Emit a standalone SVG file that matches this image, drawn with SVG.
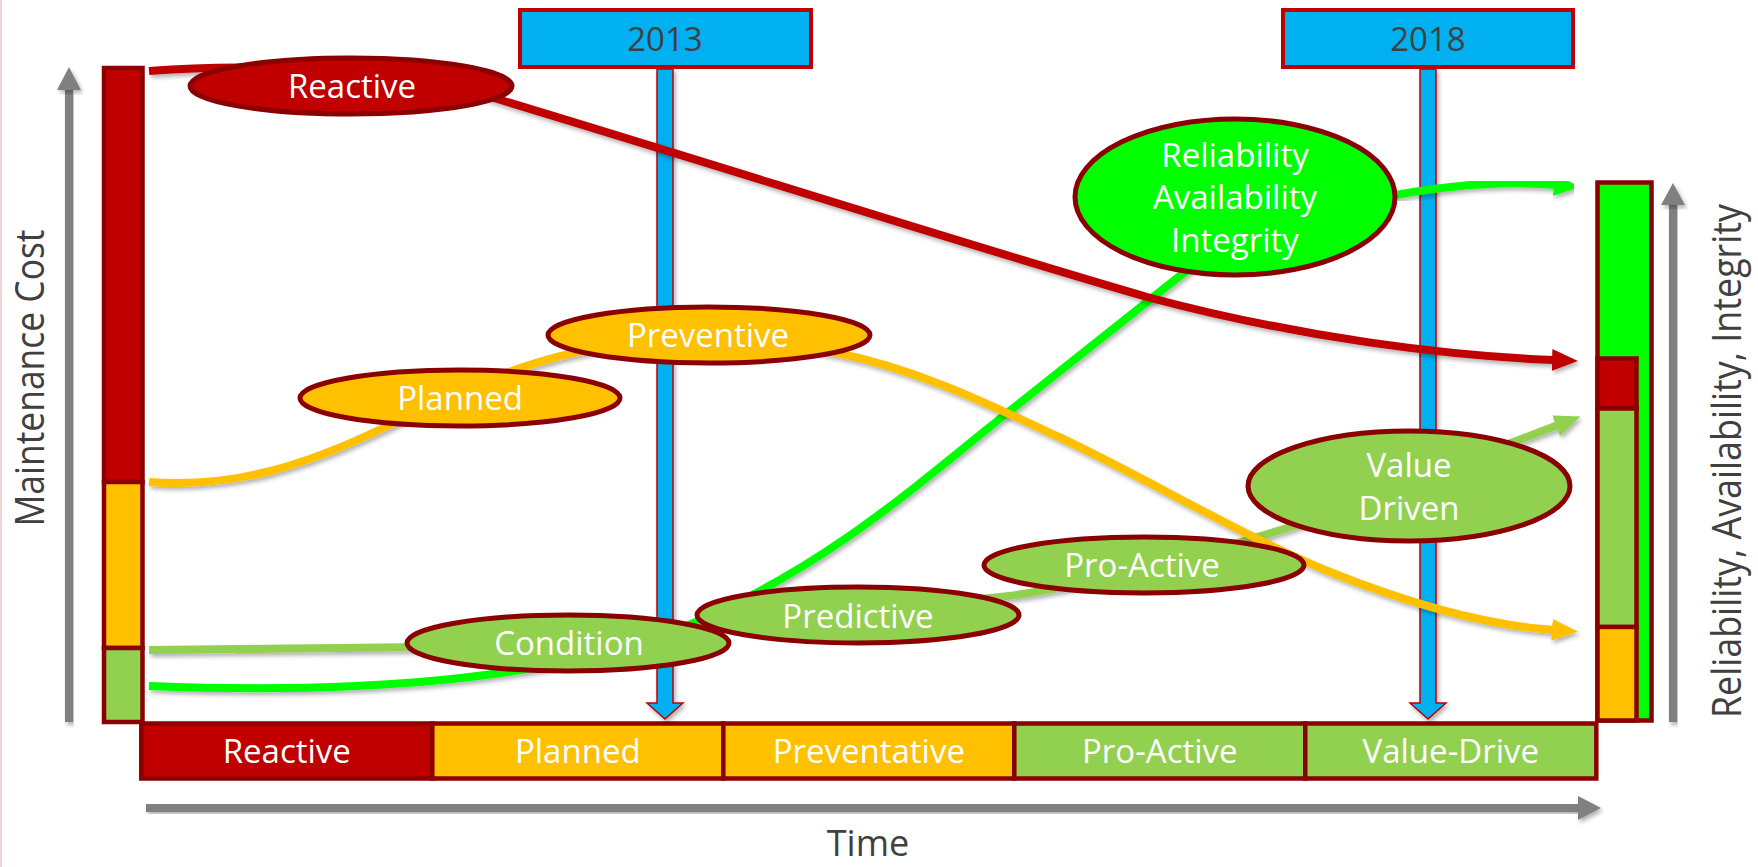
<svg xmlns="http://www.w3.org/2000/svg" width="1758" height="867" viewBox="0 0 1758 867">
<defs>
<style>
text{font-family:"Open Sans","Liberation Sans",sans-serif;}
.lbl{font-size:33px;fill:#FFFFFF;text-anchor:middle;}
.yr{font-size:33px;fill:#404040;text-anchor:middle;}
.ax{font-size:36px;fill:#404040;text-anchor:middle;}
.axv{font-size:41px;fill:#404040;text-anchor:middle;}
.ell{stroke:#8B0000;stroke-width:5;}
.seg{stroke:#8B0000;stroke-width:4.5;}
.conn{fill:none;stroke-width:8;filter:url(#sh);}
.gray{fill:#808080;filter:url(#sh);}
.blue{fill:#00B0F0;stroke:#C00000;stroke-width:1.5;filter:url(#sh);}
</style>
<filter id="sh" x="-10%" y="-10%" width="120%" height="130%">
<feDropShadow dx="2" dy="3" stdDeviation="2" flood-color="#000" flood-opacity="0.3"/>
</filter>
<marker id="ar-red" markerUnits="userSpaceOnUse" markerWidth="28" markerHeight="24" refX="2" refY="12" orient="auto"><path d="M0,1 L26,12 L0,23 z" fill="#C00000"/></marker>
<marker id="ar-org" markerUnits="userSpaceOnUse" markerWidth="28" markerHeight="24" refX="2" refY="12" orient="auto"><path d="M0,1 L26,12 L0,23 z" fill="#FFC000"/></marker>
<marker id="ar-grn" markerUnits="userSpaceOnUse" markerWidth="28" markerHeight="24" refX="2" refY="12" orient="auto"><path d="M0,1 L26,12 L0,23 z" fill="#00FF00"/></marker>
<marker id="ar-lgr" markerUnits="userSpaceOnUse" markerWidth="28" markerHeight="24" refX="2" refY="12" orient="auto"><path d="M0,1 L26,12 L0,23 z" fill="#92D050"/></marker>
</defs>
<rect width="1758" height="867" fill="#FFFFFF"/>
<line x1="1" y1="0" x2="1" y2="867" stroke="#F4D3D8" stroke-width="2"/>

<g id="axes">
<rect class="gray" x="65" y="89" width="8" height="633"/>
<polygon class="gray" points="57,90 69,67 81,90"/>
<rect class="gray" x="1669" y="203" width="8" height="519"/>
<polygon class="gray" points="1661,205 1673,183 1685,205"/>
<rect class="gray" x="146" y="804" width="1434" height="8"/>
<polygon class="gray" points="1578,796 1601,808 1578,820"/>
<text class="axv" transform="translate(44,378) rotate(-90)" textLength="297" lengthAdjust="spacingAndGlyphs">Maintenance Cost</text>
<text class="axv" transform="translate(1741,461) rotate(-90)" textLength="514" lengthAdjust="spacingAndGlyphs">Reliability, Availability, Integrity</text>
<text class="ax" x="868" y="856">Time</text>
</g>

<g id="cost-bar">
<rect class="seg" x="104" y="68" width="38.5" height="414" fill="#C00000"/>
<rect class="seg" x="104" y="482" width="38.5" height="166" fill="#FFC000"/>
<rect class="seg" x="104" y="648" width="38.5" height="74" fill="#92D050"/>
</g>

<g id="reliability-bar">
<rect class="seg" x="1597.5" y="182.5" width="54" height="538" fill="#00FF00" stroke-width="5"/>
<rect class="seg" x="1597.5" y="358.5" width="39" height="50" fill="#C00000"/>
<rect class="seg" x="1597.5" y="408.5" width="39" height="218.5" fill="#92D050"/>
<rect class="seg" x="1597.5" y="627" width="39" height="93.5" fill="#FFC000"/>
</g>

<g id="timeline">
<rect class="seg" x="141.3" y="723.5" width="291" height="55" fill="#C00000"/>
<rect class="seg" x="432.3" y="723.5" width="291" height="55" fill="#FFC000"/>
<rect class="seg" x="723.3" y="723.5" width="291" height="55" fill="#FFC000"/>
<rect class="seg" x="1014.3" y="723.5" width="291" height="55" fill="#92D050"/>
<rect class="seg" x="1305.3" y="723.5" width="291" height="55" fill="#92D050"/>
<text class="lbl" x="286.8" y="763">Reactive</text>
<text class="lbl" x="577.8" y="763">Planned</text>
<text class="lbl" x="868.8" y="763">Preventative</text>
<text class="lbl" x="1159.8" y="763">Pro-Active</text>
<text class="lbl" x="1450.8" y="763">Value-Drive</text>
</g>

<g id="year-2013">
<polygon class="blue" points="657,69 673,69 673,703 683,703 665,719 647,703 657,703"/>
<rect x="520" y="10" width="291" height="57" fill="#00B0F0" stroke="#C00000" stroke-width="4"/>
<text class="yr" x="665" y="51">2013</text>
</g>
<g id="year-2018">
<polygon class="blue" points="1420,69 1436,69 1436,703 1446,703 1428,719 1410,703 1420,703"/>
<rect x="1283" y="10" width="290" height="57" fill="#00B0F0" stroke="#C00000" stroke-width="4"/>
<text class="yr" x="1428" y="51">2018</text>
</g>

<g id="connectors">
<path class="conn" stroke="#00FF00" d="M149,686 C350,694 560,682 696,622 C820,568 900,500 1002,417 L1181,275 L1230,236"/>
<path class="conn" stroke="#00FF00" marker-end="url(#ar-grn)" d="M1380,198 C1440,186 1500,180 1556,185"/>
<path class="conn" stroke="#92D050" marker-end="url(#ar-lgr)" d="M149,650 L430,647 C600,640 850,612 1000,597 C1100,585 1200,555 1300,524 L1558,425"/>
<path class="conn" stroke="#C00000" marker-end="url(#ar-red)" d="M149,71 C260,62 400,70 494,98 C700,160 1000,255 1147,297 C1300,338 1450,356 1554,360"/>
<path class="conn" stroke="#FFC000" marker-end="url(#ar-org)" d="M149,482 C230,488 300,468 383,428 C440,400 520,360 600,348 C680,336 760,338 837,353 C920,370 990,405 1059,437 C1150,480 1240,535 1330,572 C1400,600 1480,625 1554,630"/>
</g>

<g id="condition">
<ellipse class="ell" cx="568" cy="643" rx="161" ry="28" fill="#92D050"/>
<text class="lbl" x="569" y="655">Condition</text>
</g>
<g id="predictive">
<ellipse class="ell" cx="858" cy="615" rx="161" ry="28" fill="#92D050"/>
<text class="lbl" x="858" y="628">Predictive</text>
</g>
<g id="pro-active">
<ellipse class="ell" cx="1144" cy="565" rx="160" ry="28" fill="#92D050"/>
<text class="lbl" x="1142" y="577">Pro-Active</text>
</g>
<g id="value-driven">
<ellipse class="ell" cx="1409" cy="486" rx="161" ry="55" fill="#92D050"/>
<text class="lbl" x="1409" y="477">Value</text>
<text class="lbl" x="1409" y="520">Driven</text>
</g>
<g id="rai">
<ellipse class="ell" cx="1235" cy="197" rx="160" ry="78" fill="#00FF00"/>
<text class="lbl" x="1235" y="167">Reliability</text>
<text class="lbl" x="1235" y="209">Availability</text>
<text class="lbl" x="1235" y="252">Integrity</text>
</g>
<g id="planned">
<ellipse class="ell" cx="460" cy="398" rx="160" ry="28" fill="#FFC000"/>
<text class="lbl" x="460" y="410">Planned</text>
</g>
<g id="preventive">
<ellipse class="ell" cx="709" cy="335" rx="161" ry="28" fill="#FFC000"/>
<text class="lbl" x="708" y="347">Preventive</text>
</g>
<g id="reactive">
<ellipse class="ell" cx="351" cy="86" rx="161" ry="28" fill="#C00000"/>
<text class="lbl" x="352" y="98">Reactive</text>
</g>
</svg>
